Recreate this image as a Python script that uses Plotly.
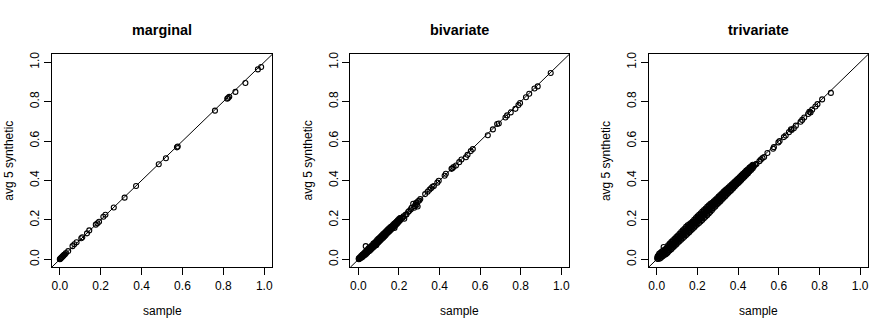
import plotly.graph_objects as go

W, H = 896, 331

panel_titles = ["marginal", "bivariate", "trivariate"]
x_label = "sample"
y_label = "avg 5 synthetic"
tick_vals = [0.0, 0.2, 0.4, 0.6, 0.8, 1.0]

# marginal
marg_sample = [0.000, 0.002, 0.004, 0.006, 0.008, 0.010, 0.012, 0.015, 0.018, 0.021,
               0.025, 0.030, 0.041, 0.062, 0.071, 0.082, 0.105, 0.110, 0.133, 0.144,
               0.176, 0.184, 0.192, 0.213, 0.223, 0.264, 0.317, 0.373, 0.484, 0.519,
               0.573, 0.577, 0.759, 0.819, 0.823, 0.829, 0.859, 0.908, 0.969, 0.985]
marg_synth = [0.001, 0.003, 0.004, 0.007, 0.009, 0.011, 0.013, 0.017, 0.019, 0.023,
              0.026, 0.032, 0.042, 0.067, 0.077, 0.087, 0.107, 0.112, 0.132, 0.147,
              0.176, 0.183, 0.191, 0.216, 0.226, 0.263, 0.313, 0.372, 0.482, 0.513,
              0.568, 0.572, 0.754, 0.814, 0.818, 0.824, 0.849, 0.894, 0.963, 0.975]

# bivariate, dense part near the origin (lower edge / centre / upper edge of the band)
biv_band_sample = [0.002, 0.008, 0.014, 0.020, 0.026, 0.032, 0.038, 0.044, 0.050, 0.056,
                   0.062, 0.068, 0.074, 0.080, 0.086, 0.092, 0.098, 0.104, 0.110, 0.116,
                   0.122, 0.128, 0.134, 0.140, 0.146, 0.152, 0.158, 0.164, 0.170, 0.176,
                   0.182, 0.188, 0.194, 0.200, 0.206]
biv_band_low = [0.001, 0.004, 0.008, 0.012, 0.018, 0.022, 0.028, 0.034, 0.040, 0.044,
                0.050, 0.056, 0.062, 0.068, 0.074, 0.080, 0.086, 0.092, 0.098, 0.104,
                0.110, 0.116, 0.122, 0.130, 0.136, 0.142, 0.148, 0.154, 0.160, 0.166,
                0.172, 0.178, 0.184, 0.192, 0.198]
biv_band_mid = [0.003, 0.008, 0.013, 0.018, 0.024, 0.030, 0.035, 0.041, 0.048, 0.052,
                0.058, 0.064, 0.071, 0.076, 0.082, 0.089, 0.095, 0.101, 0.107, 0.113,
                0.119, 0.125, 0.131, 0.138, 0.144, 0.150, 0.156, 0.161, 0.167, 0.173,
                0.179, 0.185, 0.191, 0.198, 0.204]
biv_band_high = [0.006, 0.012, 0.018, 0.024, 0.030, 0.036, 0.042, 0.048, 0.056, 0.060,
                 0.066, 0.072, 0.080, 0.084, 0.090, 0.098, 0.104, 0.110, 0.116, 0.122,
                 0.128, 0.134, 0.140, 0.146, 0.152, 0.158, 0.164, 0.168, 0.174, 0.180,
                 0.186, 0.192, 0.198, 0.204, 0.210]
# bivariate, individual points
biv_sample = [0.948, 0.884, 0.868, 0.842, 0.826, 0.797, 0.789, 0.774, 0.751, 0.733,
              0.725, 0.692, 0.684, 0.663, 0.638, 0.564, 0.554, 0.538, 0.530, 0.508,
              0.497, 0.481, 0.469, 0.459, 0.463, 0.431, 0.425, 0.396, 0.389, 0.372,
              0.365, 0.358, 0.350, 0.341, 0.329, 0.305, 0.300, 0.294, 0.292, 0.287,
              0.285, 0.282, 0.278, 0.275, 0.270, 0.262, 0.258, 0.250, 0.245, 0.237,
              0.232, 0.226, 0.222, 0.218, 0.214, 0.208, 0.178, 0.088, 0.036]
biv_synth = [0.945, 0.877, 0.866, 0.840, 0.822, 0.793, 0.783, 0.763, 0.745, 0.730,
             0.719, 0.689, 0.686, 0.659, 0.629, 0.559, 0.549, 0.530, 0.518, 0.506,
             0.493, 0.476, 0.468, 0.459, 0.462, 0.434, 0.424, 0.399, 0.389, 0.372,
             0.368, 0.361, 0.353, 0.343, 0.331, 0.306, 0.298, 0.295, 0.268, 0.276,
             0.287, 0.279, 0.270, 0.262, 0.282, 0.262, 0.253, 0.245, 0.240, 0.228,
             0.226, 0.206, 0.218, 0.211, 0.208, 0.210, 0.159, 0.072, 0.067]

# trivariate, blob at the origin
tri_origin_sample = [0.002, 0.004, 0.006, 0.008, 0.010, 0.012, 0.014, 0.016, 0.018, 0.020,
                     0.022, 0.025, 0.027, 0.030, 0.032, 0.034, 0.035, 0.038, 0.040, 0.042,
                     0.045, 0.048, 0.050, 0.052, 0.005, 0.011, 0.024, 0.036, 0.044]
tri_origin_synth = [0.004, 0.012, 0.002, 0.020, 0.008, 0.028, 0.015, 0.004, 0.034, 0.022,
                    0.010, 0.040, 0.028, 0.016, 0.045, 0.063, 0.030, 0.022, 0.050, 0.036,
                    0.026, 0.058, 0.042, 0.032, 0.016, 0.020, 0.032, 0.040, 0.048]
# trivariate, dense band (five rows from lower to upper edge)
tri_band_sample = [0.056, 0.064, 0.072, 0.080, 0.088, 0.096, 0.104, 0.112, 0.120, 0.128,
                   0.136, 0.144, 0.152, 0.160, 0.168, 0.176, 0.184, 0.192, 0.200, 0.208,
                   0.216, 0.224, 0.232, 0.240, 0.248, 0.256, 0.264, 0.272, 0.280, 0.288,
                   0.296, 0.304, 0.312, 0.320, 0.328, 0.336, 0.344, 0.352, 0.360, 0.368,
                   0.376, 0.384, 0.392, 0.400, 0.408, 0.416, 0.424, 0.432, 0.440, 0.448,
                   0.456, 0.464, 0.472]
tri_band_low = [0.038, 0.045, 0.052, 0.060, 0.068, 0.076, 0.084, 0.092, 0.100, 0.107,
                0.115, 0.122, 0.130, 0.138, 0.146, 0.154, 0.162, 0.170, 0.178, 0.184,
                0.192, 0.200, 0.208, 0.216, 0.224, 0.232, 0.241, 0.250, 0.260, 0.268,
                0.278, 0.286, 0.294, 0.302, 0.311, 0.319, 0.328, 0.336, 0.344, 0.352,
                0.361, 0.369, 0.378, 0.386, 0.394, 0.402, 0.411, 0.419, 0.428, 0.436,
                0.445, 0.453, 0.462]
tri_band_lowmid = [0.047, 0.054, 0.062, 0.070, 0.078, 0.086, 0.094, 0.102, 0.110, 0.118,
                   0.126, 0.134, 0.142, 0.150, 0.158, 0.166, 0.174, 0.182, 0.190, 0.197,
                   0.205, 0.213, 0.221, 0.229, 0.237, 0.246, 0.254, 0.262, 0.271, 0.279,
                   0.287, 0.295, 0.303, 0.311, 0.319, 0.327, 0.335, 0.343, 0.351, 0.359,
                   0.368, 0.376, 0.384, 0.392, 0.400, 0.408, 0.416, 0.424, 0.433, 0.441,
                   0.450, 0.458, 0.467]
tri_band_mid = [0.057, 0.064, 0.073, 0.080, 0.089, 0.096, 0.105, 0.112, 0.121, 0.128,
                0.137, 0.145, 0.153, 0.161, 0.168, 0.177, 0.184, 0.192, 0.201, 0.208,
                0.217, 0.224, 0.233, 0.241, 0.248, 0.257, 0.264, 0.272, 0.281, 0.288,
                0.297, 0.304, 0.313, 0.320, 0.329, 0.336, 0.345, 0.352, 0.361, 0.368,
                0.377, 0.384, 0.393, 0.400, 0.409, 0.416, 0.425, 0.432, 0.441, 0.448,
                0.457, 0.464, 0.473]
tri_band_midhigh = [0.064, 0.072, 0.080, 0.088, 0.096, 0.104, 0.112, 0.120, 0.129, 0.137,
                    0.145, 0.154, 0.162, 0.170, 0.176, 0.184, 0.192, 0.200, 0.209, 0.216,
                    0.225, 0.233, 0.241, 0.249, 0.257, 0.265, 0.273, 0.279, 0.287, 0.295,
                    0.303, 0.311, 0.319, 0.327, 0.335, 0.343, 0.351, 0.358, 0.366, 0.374,
                    0.382, 0.390, 0.398, 0.406, 0.414, 0.422, 0.430, 0.438, 0.446, 0.453,
                    0.461, 0.468, 0.476]
tri_band_high = [0.072, 0.080, 0.089, 0.097, 0.105, 0.113, 0.121, 0.130, 0.139, 0.147,
                 0.155, 0.165, 0.173, 0.178, 0.184, 0.192, 0.201, 0.210, 0.219, 0.226,
                 0.234, 0.243, 0.250, 0.258, 0.266, 0.274, 0.282, 0.287, 0.294, 0.302,
                 0.310, 0.318, 0.326, 0.334, 0.342, 0.350, 0.357, 0.364, 0.372, 0.379,
                 0.387, 0.395, 0.402, 0.410, 0.418, 0.426, 0.434, 0.442, 0.450, 0.457,
                 0.465, 0.472, 0.480]
# trivariate, sparse upper part
tri_sample = [0.856, 0.813, 0.790, 0.780, 0.764, 0.756, 0.750, 0.744, 0.725, 0.715,
              0.707, 0.684, 0.674, 0.663, 0.660, 0.650, 0.634, 0.625, 0.604, 0.598,
              0.576, 0.572, 0.544, 0.528, 0.520, 0.512, 0.505, 0.490, 0.484, 0.478]
tri_synth = [0.844, 0.811, 0.787, 0.775, 0.759, 0.745, 0.748, 0.737, 0.719, 0.707,
             0.698, 0.678, 0.665, 0.656, 0.660, 0.645, 0.628, 0.620, 0.600, 0.593,
             0.569, 0.561, 0.539, 0.519, 0.514, 0.506, 0.498, 0.484, 0.480, 0.472]

panels = [
    (marg_sample, marg_synth),
    (biv_band_sample * 3 + biv_sample,
     biv_band_low + biv_band_mid + biv_band_high + biv_synth),
    (tri_origin_sample + tri_band_sample * 5 + tri_sample,
     tri_origin_synth + tri_band_low + tri_band_lowmid + tri_band_mid
     + tri_band_midhigh + tri_band_high + tri_synth),
]

# plot boxes in pixels (left, right), shared top/bottom
boxes = [(51.7, 272.7), (350.7, 570.0), (649.3, 869.3)]
box_top, box_bottom = 51.7, 266.7
ylab_x = [9, 308, 606]

FONT = "Liberation Sans, Arial, sans-serif"

fig = go.Figure()
layout = dict(
    width=W, height=H,
    margin=dict(l=0, r=0, t=0, b=0),
    paper_bgcolor="white", plot_bgcolor="white",
    showlegend=False,
    font=dict(family=FONT, size=12, color="black"),
    annotations=[], shapes=[],
)

for i, ((xs, ys), (left, right)) in enumerate(zip(panels, boxes)):
    n = "" if i == 0 else str(i + 1)
    fig.add_trace(go.Scatter(
        x=xs, y=ys, mode="markers", xaxis="x" + n, yaxis="y" + n,
        marker=dict(symbol="circle-open", size=5, color="black", line=dict(width=1.1, color="black")),
        hoverinfo="skip",
    ))
    common = dict(range=[-0.04, 1.04], tickvals=tick_vals, tickformat=".1f",
                  ticks="outside", ticklen=7, tickwidth=1, tickcolor="black",
                  showline=True, linecolor="black", linewidth=1, mirror=True,
                  showgrid=False, zeroline=False, fixedrange=True,
                  tickfont=dict(family=FONT, size=12, color="black"))
    layout["xaxis" + n] = dict(domain=[left / W, right / W], anchor="y" + n, **common)
    layout["yaxis" + n] = dict(domain=[1 - box_bottom / H, 1 - box_top / H], anchor="x" + n,
                               tickangle=-90, **common)
    # abline(0, 1)
    layout["shapes"].append(dict(type="line", xref="x" + n + " domain", yref="y" + n + " domain",
                                 x0=0, y0=0, x1=1, y1=1, line=dict(color="black", width=1)))
    cx = (left + right) / 2 / W
    layout["annotations"].append(dict(text="<b>%s</b>" % panel_titles[i], x=cx, y=1 - 27 / H,
                                      xref="paper", yref="paper", showarrow=False,
                                      xanchor="center", yanchor="middle",
                                      font=dict(size=14.4, family=FONT, color="black")))
    layout["annotations"].append(dict(text=x_label, x=cx, y=1 - 311 / H,
                                      xref="paper", yref="paper", showarrow=False,
                                      xanchor="center", yanchor="middle"))
    layout["annotations"].append(dict(text=y_label, x=ylab_x[i] / W,
                                      y=1 - (box_top + box_bottom) / 2 / H,
                                      xref="paper", yref="paper", showarrow=False,
                                      xanchor="center", yanchor="middle", textangle=-90))

fig.update_layout(**layout)
fig.write_html("out.html", config={"displayModeBar": False},
               post_script="document.body.style.margin = '0';")
